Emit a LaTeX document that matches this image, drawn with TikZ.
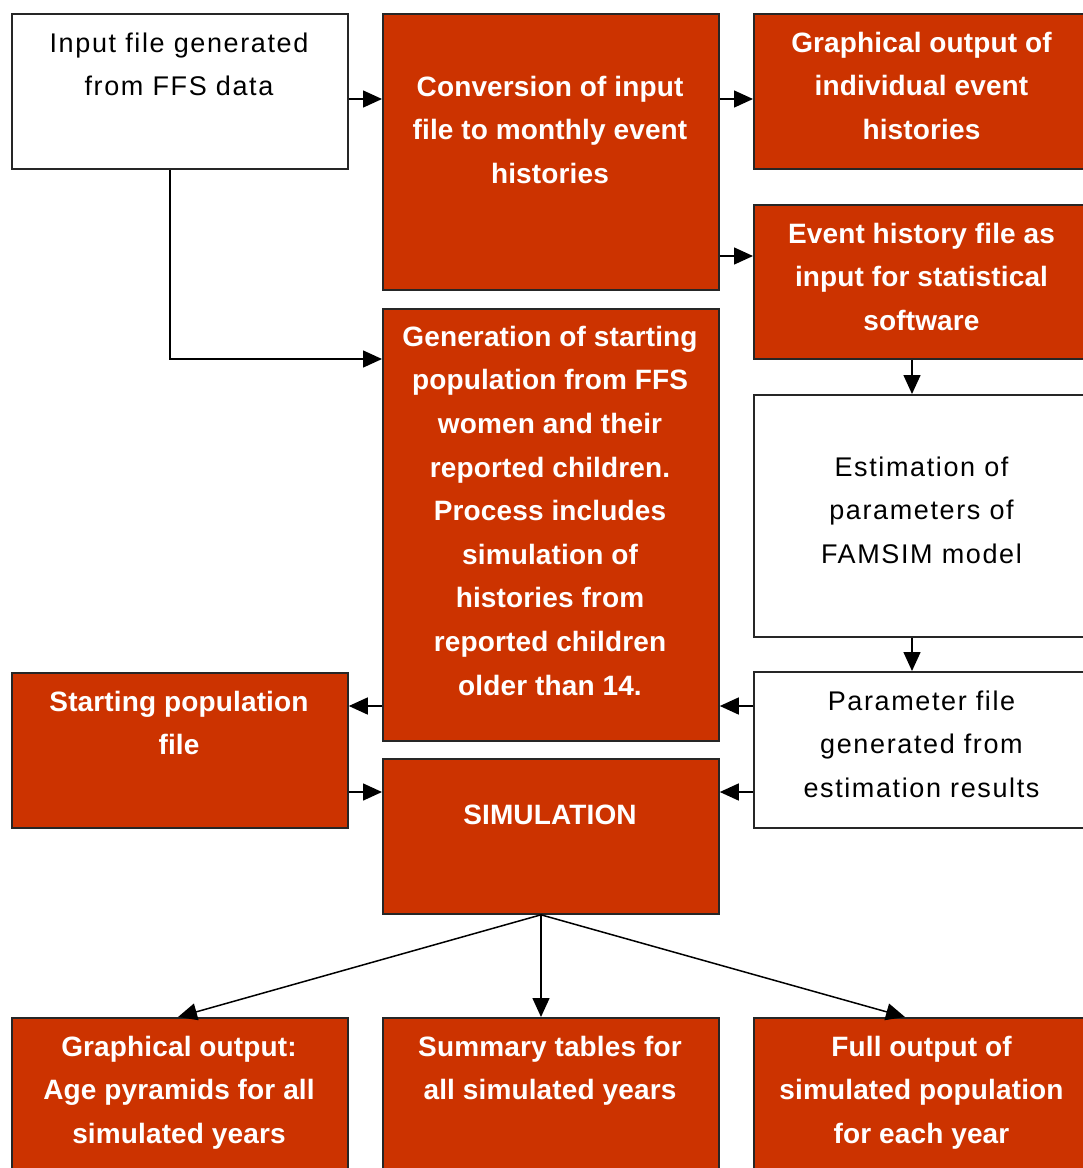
\documentclass[tikz,border=0pt]{standalone}
\usepackage{fontspec}
\setmainfont{Liberation Sans}
\usetikzlibrary{arrows.meta}
\definecolor{boxred}{HTML}{CC3300}
\newcommand\fl{\rule{0pt}{21pt}}
\begin{document}
\begin{tikzpicture}[x=1pt,y=-1pt,
 box/.style={draw=black!85, line width=1.8pt, rectangle, inner sep=0pt, anchor=north west, minimum width=336pt},
 redbox/.style={box, fill=boxred},
 whitebox/.style={box, fill=white},
 wtxt/.style={anchor=north, inner sep=0pt, align=center, text=white, font=\fontsize{28}{43.6}\selectfont\bfseries\addfontfeature{LetterSpace=0.5}},
 btxt/.style={anchor=north, inner sep=0pt, align=center, text=black, font=\fontsize{27}{43.6}\selectfont\addfontfeature{LetterSpace=6}},
 arr/.style={line width=1.5pt, -{Triangle[length=19pt,width=17pt]}},
 conn/.style={line width=1.5pt}]
\useasboundingbox (0,0) rectangle (1083,1168);
\clip (0,0) rectangle (1083,1168);
% boxes
\node[whitebox, minimum height=155pt] (A) at (11,13) {};
\node[redbox, minimum height=276pt] (B) at (382,13) {};
\node[redbox, minimum height=155pt] (C) at (753,13) {};
\node[redbox, minimum height=154pt] (D) at (753,204) {};
\node[redbox, minimum height=432pt] (E) at (382,308) {};
\node[whitebox, minimum height=242pt] (F) at (753,394) {};
\node[redbox, minimum height=155pt] (G) at (11,672) {};
\node[whitebox, minimum height=156pt] (H) at (753,671) {};
\node[redbox, minimum height=155pt] (I) at (382,758) {};
\node[redbox, minimum height=160pt] (J) at (11,1017) {};
\node[redbox, minimum height=160pt] (K) at (382,1017) {};
\node[redbox, minimum height=160pt] (L) at (753,1017) {};
% texts
\node[btxt] (tA) at (179,31) {\fl Input file generated\\from FFS data};
\node[wtxt] (tB) at (550,75) {\fl Conversion of input\\file to monthly event\\histories};
\node[wtxt] (tC) at (921.5,31) {\fl Graphical output of\\individual event\\histories};
\node[wtxt] (tD) at (921.5,222) {\fl Event history file as\\input for statistical\\software};
\node[wtxt] (tE) at (550,325) {\fl Generation of starting\\population from FFS\\women and their\\reported children.\\Process includes\\simulation of\\histories from\\reported children\\older than 14.};
\node[btxt] (tF) at (921.5,455) {\fl Estimation of\\parameters of\\FAMSIM model};
\node[wtxt] (tG) at (179,690) {\fl Starting population\\file};
\node[btxt] (tH) at (921.5,689) {\fl Parameter file\\generated from\\estimation results};
\node[wtxt] (tI) at (550,803) {\fl SIMULATION};
\node[wtxt] (tJ) at (179,1035) {\fl Graphical output:\\Age pyramids for all\\simulated years};
\node[wtxt] (tK) at (550,1035) {\fl Summary tables for\\all simulated years};
\node[wtxt] (tL) at (921.5,1035) {\fl Full output of\\simulated population\\for each year};
% connectors
\draw[arr] (A.east |- 0,99) -- (B.west |- 0,99);
\draw[arr] (B.east |- 0,99) -- (C.west |- 0,99);
\draw[arr] (B.east |- 0,256) -- (D.west |- 0,256);
\coordinate (bend) at (170,359);
\draw[arr] (A.south -| bend) -- (bend) -- (E.west |- bend);
\draw[arr] (D.south -| 912,0) -- (F.north -| 912,0);
\draw[arr] (F.south -| 912,0) -- (H.north -| 912,0);
\draw[arr] (H.west |- 0,706) -- (E.east |- 0,706);
\draw[arr] (H.west |- 0,792) -- (I.east |- 0,792);
\draw[arr] (E.west |- 0,706) -- (G.east |- 0,706);
\draw[arr] (G.east |- 0,792) -- (I.west |- 0,792);
\coordinate (s) at (I.south -| 541,0);
\draw[arr] (s) -- (J.north -| 178,0);
\draw[arr] (s) -- (K.north -| 541,0);
\draw[arr] (s) -- (L.north -| 905,0);
\end{tikzpicture}
\end{document}
